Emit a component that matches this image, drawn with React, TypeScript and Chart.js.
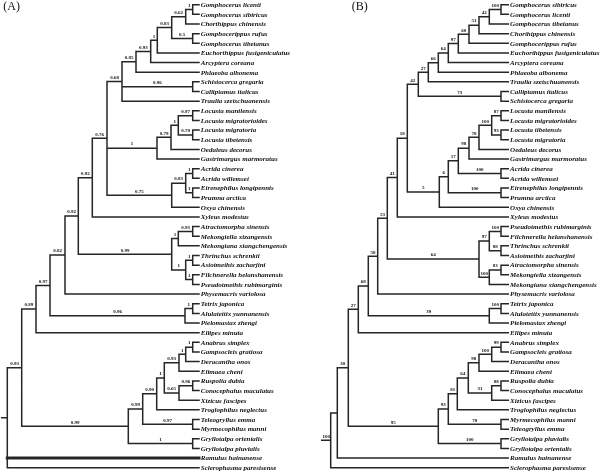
import React, { useEffect, useRef } from 'react';
import { Chart, registerables } from 'chart.js';
Chart.register(...registerables);

// ---------- data ----------
const panelTitles = ['(A)', '(B)'];

const taxaA = [
  'Gomphocerus licenti', 'Gomphocerus sibiricus', 'Chorthippus chinensis', 'Gomphocerippus rufus',
  'Gomphocerus tibetanus', 'Euchorthippus fusigeniculatus', 'Arcyptera coreana', 'Phlaeoba albonema',
  'Schistocerca gregaria', 'Calliptamus italicus', 'Traulia szetschuanensis', 'Locusta manilensis',
  'Locusta migratorioides', 'Locusta migratoria', 'Locusta tibetensis', 'Oedaleus decorus',
  'Gastrimargus marmoratus', 'Acrida cinerea', 'Acrida willemsei', 'Eirenephilus longipennis',
  'Prumna arctica', 'Oxya chinensis', 'Xyleus modestus', 'Atractomorpha sinensis',
  'Mekongiella xizangensis', 'Mekongiana xiangchengensis', 'Thrinchus schrenkii', 'Asiotmethis zacharjini',
  'Filchnerella helanshanensis', 'Pseudotmethis rubimarginis', 'Physemacris variolosa', 'Tetrix japonica',
  'Alulatettix yunnanensis', 'Pielomastax zhengi', 'Ellipes minuta', 'Anabrus simplex',
  'Gampsocleis gratiosa', 'Deracantha onos', 'Elimaea cheni', 'Ruspolia dubia',
  'Conocephalus maculatus', 'Xizicus fascipes', 'Troglophilus neglectus', 'Teleogryllus emma',
  'Myrmecophilus manni', 'Gryllotalpa orientalis', 'Gryllotalpa pluvialis', 'Ramulus hainanense',
  'Sclerophasma paresisense',
];

const taxaB = [
  'Gomphocerus sibiricus', 'Gomphocerus licenti', 'Gomphocerus tibetanus', 'Chorthippus chinensis',
  'Gomphocerippus rufus', 'Euchorthippus fusigeniculatus', 'Arcyptera coreana', 'Phlaeoba albonema',
  'Traulia szetschuanensis', 'Calliptamus italicus', 'Schistocerca gregaria', 'Locusta manilensis',
  'Locusta migratorioides', 'Locusta tibetensis', 'Locusta migratoria', 'Oedaleus decorus',
  'Gastrimargus marmoratus', 'Acrida cinerea', 'Acrida willemsei', 'Eirenephilus longipennis',
  'Prumna arctica', 'Oxya chinensis', 'Xyleus modestus', 'Pseudotmethis rubimarginis',
  'Filchnerella helanshanensis', 'Thrinchus schrenkii', 'Asiotmethis zacharjini', 'Atractomorpha sinensis',
  'Mekongiella xizangensis', 'Mekongiana xiangchengensis', 'Physemacris variolosa', 'Tetrix japonica',
  'Alulatettix yunnanensis', 'Pielomastax zhengi', 'Ellipes minuta', 'Anabrus simplex',
  'Gampsocleis gratiosa', 'Deracantha onos', 'Elimaea cheni', 'Ruspolia dubia',
  'Conocephalus maculatus', 'Xizicus fascipes', 'Troglophilus neglectus', 'Myrmecophilus manni',
  'Teleogryllus emma', 'Gryllotalpa pluvialis', 'Gryllotalpa orientalis', 'Ramulus hainanense',
  'Sclerophasma paresisense',
];

// internal nodes (post-order): [id, children (taxon row index or node id), node depth, support]
const nodesA: [string, string, number, string][] = [
  ['n1', '0 1', 192.7, '1'],
  ['n2', 'n1 2', 185.7, '0.62'],
  ['n3', '3 4', 192.7, '0.5'],
  ['n4', 'n2 n3', 171.7, '0.83'],
  ['n5', 'n4 5', 157.3, '1'],
  ['n6', 'n5 6', 150.7, '0.93'],
  ['n7', 'n6 7', 136, '0.85'],
  ['n8', '8 9', 192.7, '0.96'],
  ['n9', 'n7 n8 10', 122, '0.68'],
  ['l1', '11 12', 192.7, '0.97'],
  ['l2', '13 14', 192.7, '0.78'],
  ['l3', 'l1 l2', 178.3, '1'],
  ['l4', 'l3 15', 171, '0.79'],
  ['l5', 'l4 16', 157, '1'],
  ['a1', '17 18', 192.7, '1'],
  ['a2', '19 20', 192.7, '1'],
  ['a3', 'a1 a2', 185.7, '0.83'],
  ['a4', 'a3 21', 171.7, '0.75'],
  ['n10', 'n9 l5 a4', 107, '0.76'],
  ['n11', 'n10 22', 92.3, '0.92'],
  ['t1', '23 24', 192.7, '0.93'],
  ['t2', 't1 25', 178.3, '1'],
  ['t3', '26 27', 192.7, '1'],
  ['t4', '28 29', 192.7, '1'],
  ['t5', 't3 t4', 185.7, '1'],
  ['t6', 't2 t5', 171.7, '0.99'],
  ['n12', 'n11 t6', 78.3, '0.92'],
  ['n13', 'n12 30', 65, '0.82'],
  ['p1', '31 32', 192.7, '1'],
  ['p2', 'p1 33', 185, '0.96'],
  ['n14', 'n13 p2', 50, '0.97'],
  ['n15', 'n14 34', 36, '0.89'],
  ['e1', '35 36', 192.7, '1'],
  ['e2', 'e1 37', 185.7, '1'],
  ['e3', 'e2 38', 179, '0.93'],
  ['e4', '39 40', 192.7, '0.96'],
  ['e5', 'e4 41', 179, '0.65'],
  ['e6', 'e3 e5', 164.3, '1'],
  ['e7', 'e6 42', 156.7, '0.90'],
  ['e8', '43 44', 192.7, '0.97'],
  ['e9', 'e7 e8', 142.7, '0.99'],
  ['e10', '45 46', 192.7, '1'],
  ['e11', 'e9 e10', 128.3, '0.99'],
  ['n16', 'n15 e11', 21.7, '0.93'],
  ['root', 'n16 47 48', 7.3, ''],
];

const nodesB: [string, string, number, string][] = [
  ['b1', '0 1', 501, '100'],
  ['b2', 'b1 2', 489.3, '42'],
  ['b3', 'b2 3', 479, '51'],
  ['b4', 'b3 4', 469, '60'],
  ['b5', 'b4 5', 458.3, '97'],
  ['b6', 'b5 6', 448.3, '64'],
  ['b7', 'b6 7', 438.3, '66'],
  ['b8', 'b7 8', 428.3, '27'],
  ['cs', '9 10', 501, '73'],
  ['b9', 'b8 cs', 418.3, '42'],
  ['l1', '11 12', 501, '87'],
  ['l2', '13 14', 501, '93'],
  ['l3', 'l1 l2', 491.7, '100'],
  ['l4', 'l3 15', 479, '78'],
  ['l5', 'l4 16', 469, '98'],
  ['ac', '17 18', 501, '100'],
  ['l6', 'l5 ac', 458.3, '17'],
  ['ep', '19 20', 501, '100'],
  ['l7', 'l6 ep', 448.3, '6'],
  ['l8', 'l7 21', 439.3, '5'],
  ['b10', 'b9 l8', 407.3, '18'],
  ['b11', 'b10 22', 397.3, '41'],
  ['t1', '23 24', 501, '100'],
  ['t2', '25 26', 501, '88'],
  ['t3', 't1 t2', 489.3, '97'],
  ['t4', '27 28', 501, '83'],
  ['t5', 't4 29', 489.3, '100'],
  ['t6', 't3 t5', 479, '64'],
  ['b12', 'b11 t6', 387.3, '53'],
  ['b13', 'b12 30', 377.7, '58'],
  ['p1', '31 32', 501, '100'],
  ['p2', 'p1 33', 489.3, '39'],
  ['b14', 'b13 p2', 368.3, '68'],
  ['b15', 'b14 34', 358.3, '27'],
  ['e1', '35 36', 501, '99'],
  ['e2', 'e1 37', 491.7, '100'],
  ['e3', 'e2 38', 479, '98'],
  ['e4', '39 40', 501, '88'],
  ['e5', 'e4 41', 491.7, '31'],
  ['e6', 'e3 e5', 468.3, '64'],
  ['e7', 'e6 42', 457.3, '81'],
  ['e8', '43 44', 501, '78'],
  ['e9', 'e7 e8', 448.3, '93'],
  ['e10', '45 46', 501, '100'],
  ['e11', 'e9 e10', 438.3, '95'],
  ['b16', 'b15 e11', 348.3, '30'],
  ['b17', 'b16 47', 337.3, ''],
  ['root', 'b17 48', 330.7, '100'],
];

const tipDepth = [199, 508.3];
const rootStub = [1.7, 321.7];
const thickRowsA = [47];

// ---------- layout helpers ----------
type P = { x: number; y: number; sup?: string; ch?: P[]; parentX?: number; tip?: number };

function layout(nodes: [string, string, number, string][], tipX: number) {
  const pos: Record<string, P> = {};
  const tips: P[] = [];
  const internals: P[] = [];
  for (const [id, kids, x, sup] of nodes) {
    const ch: P[] = kids.split(' ').map((k) => {
      if (/^\d+$/.test(k)) {
        const t: P = { x: tipX, y: +k, tip: +k };
        tips.push(t);
        return t;
      }
      return pos[k];
    });
    const n: P = { x, y: (ch[0].y + ch[ch.length - 1].y) / 2, sup, ch };
    ch.forEach((c) => (c.parentX = x));
    pos[id] = n;
    internals.push(n);
  }
  return { root: pos['root'], tips, internals };
}

function segments(tree: ReturnType<typeof layout>, stubX: number, thickRows: number[]) {
  const thin: any[] = [];
  const thick: any[] = [];
  const gap = { x: null, y: null };
  for (const n of tree.internals) {
    const ch = n.ch!;
    thin.push({ x: n.x, y: ch[0].y }, { x: n.x, y: ch[ch.length - 1].y }, gap);
    for (const c of ch) {
      const arr = c.tip !== undefined && thickRows.includes(c.tip) ? thick : thin;
      arr.push({ x: n.x, y: c.y }, { x: c.x, y: c.y }, gap);
    }
  }
  thin.push({ x: stubX, y: tree.root.y }, { x: tree.root.x, y: tree.root.y }, gap);
  return { thin, thick };
}

const trees = [layout(nodesA, tipDepth[0]), layout(nodesB, tipDepth[1])];
trees[0].root.parentX = rootStub[0];
trees[1].root.parentX = rootStub[1];
const segA = segments(trees[0], rootStub[0], thickRowsA);
const segB = segments(trees[1], rootStub[1], []);

const LINE = '#262626';

const treeText = {
  id: 'treeText',
  afterDatasetsDraw(chart: any) {
    const { ctx } = chart;
    const xs = chart.scales.x;
    const ys = chart.scales.y;
    ctx.save();
    ctx.fillStyle = '#111';
    // panel titles
    ctx.font = '12px "Liberation Serif"';
    ctx.textBaseline = 'middle';
    ctx.textAlign = 'left';
    ctx.fillText(panelTitles[0], xs.getPixelForValue(3.3), 7);
    ctx.fillText(panelTitles[1], xs.getPixelForValue(351.7), 7);
    const names = [taxaA, taxaB];
    trees.forEach((t, i) => {
      ctx.font = 'bold italic 7px "Liberation Serif"';
      ctx.textAlign = 'left';
      ctx.textBaseline = 'middle';
      for (const tip of t.tips) {
        ctx.fillText(names[i][tip.tip!], xs.getPixelForValue(tip.x) + 1.8, ys.getPixelForValue(tip.y) + 0.5);
      }
      ctx.font = 'bold 5px "Liberation Serif"';
      ctx.textAlign = 'center';
      ctx.textBaseline = 'bottom';
      for (const n of t.internals) {
        if (!n.sup) continue;
        const mx = (xs.getPixelForValue(n.parentX!) + xs.getPixelForValue(n.x)) / 2;
        ctx.fillText(n.sup, mx, ys.getPixelForValue(n.y) - 1.5);
      }
    });
    ctx.restore();
  },
};

export default function App() {
  const ref = useRef<HTMLCanvasElement>(null);
  useEffect(() => {
    const ds = (data: any[], w: number) => ({
      data,
      showLine: true,
      spanGaps: false,
      borderColor: LINE,
      borderWidth: w,
      borderCapStyle: 'square',
      pointRadius: 0,
      pointHoverRadius: 0,
    });
    const chart = new Chart(ref.current!, {
      type: 'scatter',
      data: {
        datasets: [ds(segA.thin, 1.5), ds(segA.thick, 3), ds(segB.thin, 1.5)] as any,
      },
      options: {
        responsive: false,
        animation: false,
        layout: { padding: 0 },
        events: [],
        plugins: { legend: { display: false }, tooltip: { enabled: false } },
        scales: {
          x: { type: 'linear', min: 0, max: 600, display: false },
          y: { type: 'linear', min: -0.487, max: 48.755, reverse: true, display: false },
        },
      },
      plugins: [treeText],
    });
    return () => chart.destroy();
  }, []);
  return (
    <div style={{ position: 'absolute', left: 0, top: 0, width: 600, height: 475, background: '#fff' }}>
      <canvas ref={ref} width={600} height={475} />
    </div>
  );
}
